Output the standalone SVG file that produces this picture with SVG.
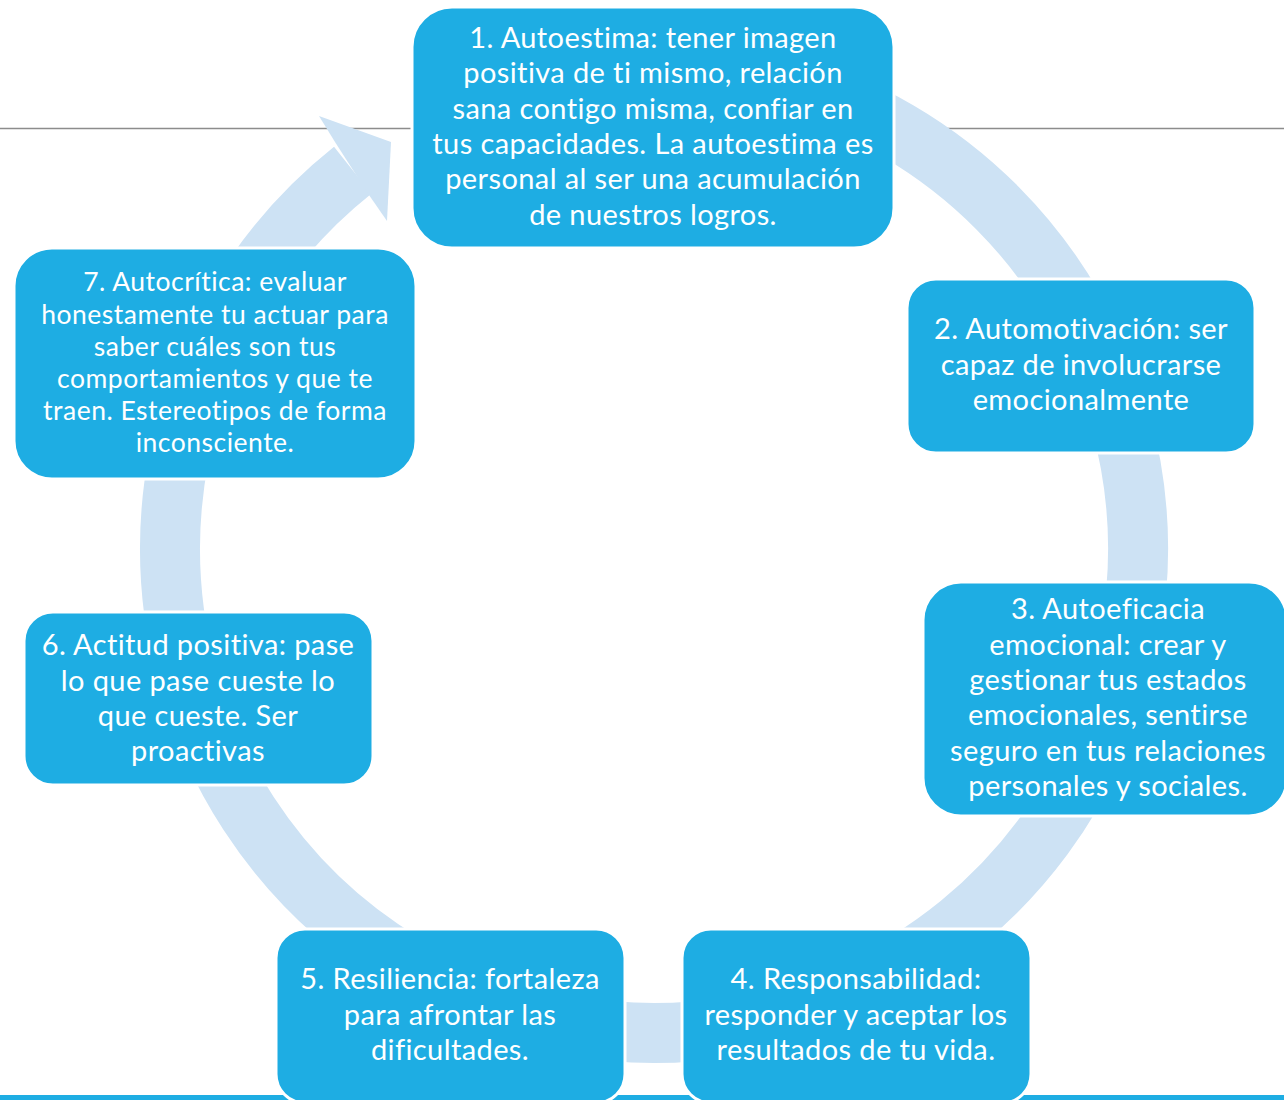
<svg xmlns="http://www.w3.org/2000/svg" width="1284" height="1100" viewBox="0 0 1284 1100">
<style>
.box{fill:#1eade3;stroke:#ffffff;stroke-width:3}
.t{font-family:Lato,"Open Sans","Liberation Sans",sans-serif;font-size:29px;letter-spacing:0.4px;font-variant-ligatures:none;fill:#ffffff;text-anchor:middle}
.t7{font-size:26.5px;letter-spacing:0.5px}
.ring{fill:none;stroke:#cde2f4;stroke-width:60}
</style>
<rect x="0" y="0" width="1284" height="1100" fill="#ffffff"/>
<line x1="0" y1="128.5" x2="1284" y2="128.5" stroke="#8c8c8c" stroke-width="1.5"/>
<rect x="0" y="1095" width="1284" height="5" fill="#1eade3"/>
<g id="connectors">
<path class="ring" d="M569.95,72.35 A484,484 0 1 1 352.7,170.2"/>
<polygon points="335,142 319,116 391,142 387,221 369,195" fill="#cde2f4"/>
</g>
<g id="node1">
<rect class="box" x="412" y="7" width="482" height="241" rx="40"/>
<text class="t" x="653" y="48">1. Autoestima: tener imagen</text>
<text class="t" x="653" y="83.3">positiva de ti mismo, relación</text>
<text class="t" x="653" y="118.6">sana contigo misma, confiar en</text>
<text class="t" x="653" y="153.9">tus capacidades. La autoestima es</text>
<text class="t" x="653" y="189.2">personal al ser una acumulación</text>
<text class="t" x="653" y="224.5">de nuestros logros.</text>
</g>
<g id="node2">
<rect class="box" x="907" y="279" width="348" height="174" rx="29"/>
<text class="t" x="1081" y="339">2. Automotivación: ser</text>
<text class="t" x="1081" y="374.5">capaz de involucrarse</text>
<text class="t" x="1081" y="410">emocionalmente</text>
</g>
<g id="node3">
<rect class="box" x="923" y="582" width="364" height="234" rx="38"/>
<text class="t" x="1108" y="619">3. Autoeficacia</text>
<text class="t" x="1108" y="654.5">emocional: crear y</text>
<text class="t" x="1108" y="690">gestionar tus estados</text>
<text class="t" x="1108" y="725">emocionales, sentirse</text>
<text class="t" x="1108" y="760.5">seguro en tus relaciones</text>
<text class="t" x="1108" y="796">personales y sociales.</text>
</g>
<g id="node4">
<rect class="box" x="682" y="929" width="349" height="174" rx="29"/>
<text class="t" x="856" y="989">4. Responsabilidad:</text>
<text class="t" x="856" y="1024.5">responder y aceptar los</text>
<text class="t" x="856" y="1060">resultados de tu vida.</text>
</g>
<g id="node5">
<rect class="box" x="276" y="929" width="349" height="174" rx="29"/>
<text class="t" x="450" y="989">5. Resiliencia: fortaleza</text>
<text class="t" x="450" y="1024.5">para afrontar las</text>
<text class="t" x="450" y="1060">dificultades.</text>
</g>
<g id="node6">
<rect class="box" x="24" y="612" width="349" height="173" rx="29"/>
<text class="t" x="198" y="655">6. Actitud positiva: pase</text>
<text class="t" x="198" y="690.5">lo que pase cueste lo</text>
<text class="t" x="198" y="726">que cueste. Ser</text>
<text class="t" x="198" y="761">proactivas</text>
</g>
<g id="node7">
<rect class="box" x="14" y="248" width="402" height="231" rx="38"/>
<text class="t t7" x="215" y="291">7. Autocrítica: evaluar</text>
<text class="t t7" x="215" y="323.5">honestamente tu actuar para</text>
<text class="t t7" x="215" y="356">saber cuáles son tus</text>
<text class="t t7" x="215" y="388">comportamientos y que te</text>
<text class="t t7" x="215" y="420">traen. Estereotipos de forma</text>
<text class="t t7" x="215" y="452">inconsciente.</text>
</g>
</svg>
